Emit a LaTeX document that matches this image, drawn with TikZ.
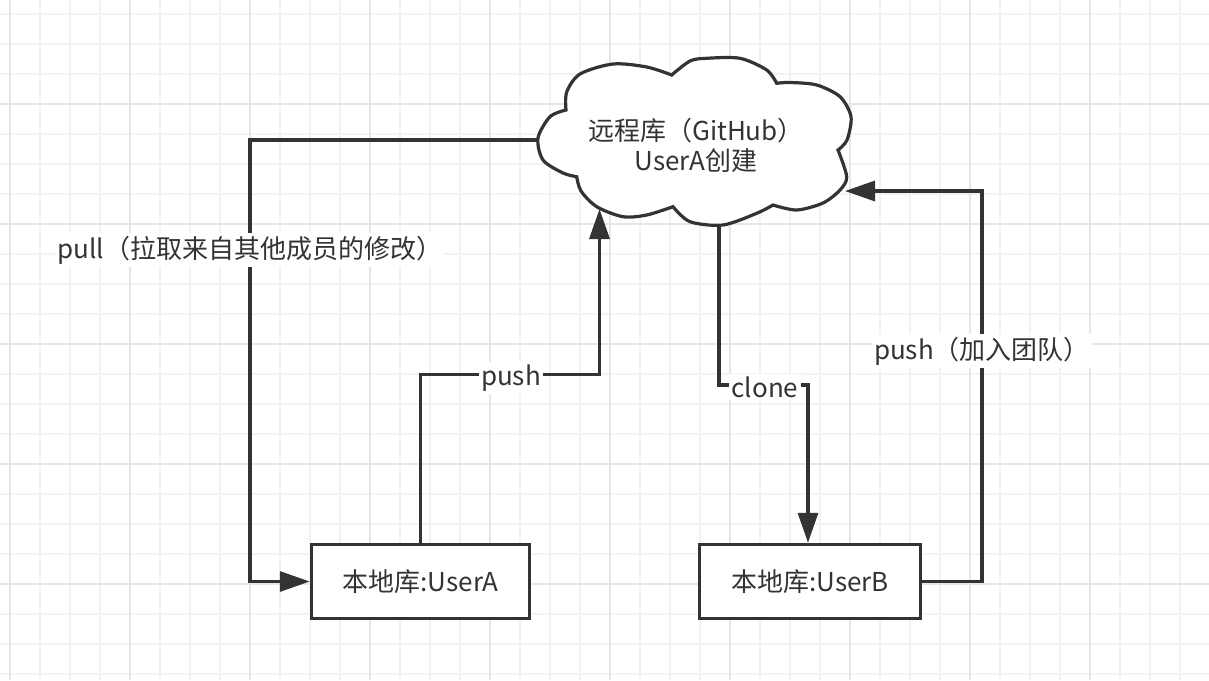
\documentclass[tikz,border=0pt]{standalone}
\usepackage{fontspec}
\newfontfamily\cjk{Noto Sans CJK SC}
\usetikzlibrary{arrows.meta}
\definecolor{ink}{HTML}{333333}
\definecolor{gminor}{HTML}{F2F2F2}
\definecolor{gmajor}{HTML}{E6E6E6}
\begin{document}
\begin{tikzpicture}[x=1pt,y=-1pt,
  conn/.style={draw=ink,line width=3.2pt},
  tip/.style={-{Triangle[length=30pt,width=20pt]}},
  txt/.style={font=\cjk\fontsize{26}{30}\selectfont,text=ink},
  box/.style={txt,draw=ink,line width=3.5pt,fill=white,minimum height=74pt,inner sep=0pt},
  lbl/.style={txt,fill=white,inner sep=2.5pt},
  cloudst/.style={draw=ink,line width=3.2pt,fill=white,line join=miter},
  gridmin/.style={gminor,line width=1.5pt},
  gridmaj/.style={gmajor,line width=1.5pt}]
\useasboundingbox (0,0) rectangle (1209,680);
\fill[white] (0,0) rectangle (1209,680);
% grid
\foreach \x in {10,40,...,1210} \draw[gridmin] (\x,0) -- (\x,680);
\foreach \y in {14,44,...,680} \draw[gridmin] (0,\y) -- (1209,\y);
\foreach \x in {10,130,...,1210} \draw[gridmaj] (\x,0) -- (\x,680);
\foreach \y in {104,224,...,680} \draw[gridmaj] (0,\y) -- (1209,\y);
% cloud
\draw[cloudst]
  plot[smooth] coordinates {(671.7,75) (646.7,67) (613,64) (580,74) (566.7,92) (566,110)}
  -- plot[smooth] coordinates {(566,110) (550,116.7) (538,138) (543,160) (563,173) (576.7,176.7)}
  -- plot[smooth] coordinates {(576.7,176.7) (581,191) (596.7,206.7) (623,216.7) (646.7,215) (673,206.7)}
  -- plot[smooth] coordinates {(673,206.7) (690,221.7) (723,225) (756.7,213.3) (773,205)}
  -- plot[smooth] coordinates {(773,205) (796.7,210) (823,203) (840,190) (846.7,176.7) (838,150)}
  -- plot[smooth] coordinates {(838,150) (847,140) (851,116.7) (840,96.7) (816.7,85) (790,82.5) (776.7,83.3)}
  -- plot[smooth] coordinates {(776.7,83.3) (766.7,70) (740,58.3) (706.7,58.3) (690,61) (671.7,75)}
  -- cycle;
\node[txt,align=center] (cloud) at (696,145) {远程库（GitHub）\\UserA创建};
\coordinate (cW) at (537,140);
\coordinate (cBA) at (599.5,209);
\coordinate (cBB) at (719,225);
\coordinate (cE) at (845,191);
% boxes
\node[box,minimum width=218pt] (A) at (420.5,581.5) {本地库:UserA};
\node[box,minimum width=221pt] (B) at (810,581.5) {本地库:UserB};
% bends
\coordinate (pullc) at (250,140);
\coordinate (pushAc) at (599.5,374.5);
\coordinate (clonec) at (719,385);
\coordinate (pushBc) at (982,191);
% connectors
\draw[conn,tip] (cW) -- (pullc) |- (A.west);
\draw[conn,tip] (A.north) |- (pushAc) -- (cBA);
\draw[conn,tip] (cBB) -- (clonec) -| ([xshift=-2pt]B.north);
\draw[conn,tip] (B.east) -| (pushBc) -- (cE);
% labels
\node[lbl] (lpull) at (250,250) {pull（拉取来自其他成员的修改）};
\node[lbl] (lpushA) at (511,378) {push};
\node[lbl] (lclone) at (765,387) {clone};
\node[lbl] (lpushB) at (982,351) {push（加入团队）};
\end{tikzpicture}
\end{document}
